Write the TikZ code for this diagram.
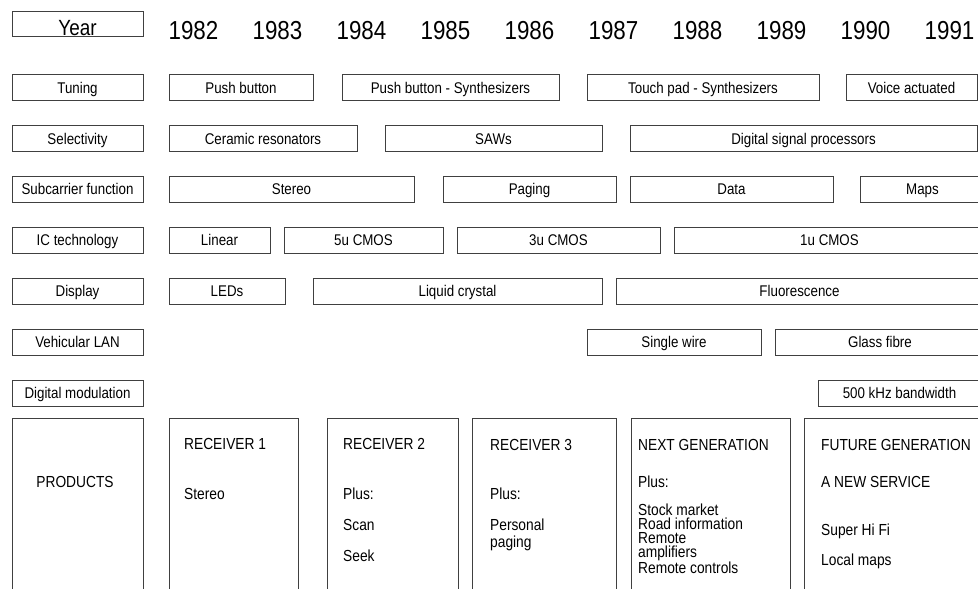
\documentclass[tikz,border=0pt]{standalone}
\usepackage{fontspec}
\setmainfont{Liberation Sans}[FakeStretch=0.86]
\usepackage{tikz}

\tikzset{
  cell/.style={draw=black!75, line width=1pt, minimum height=26pt, inner sep=0pt,
    text height=11.5pt, text depth=0pt, font=\fontsize{15.5}{17}\selectfont},
  yearlbl/.style={anchor=base, inner sep=0pt, font=\fontsize{26}{28}\selectfont},
  prodbox/.style={draw=black!75, line width=1pt, minimum height=182pt, inner sep=0pt},
  prodtxt/.style={anchor=base west, inner sep=0pt, align=left, font=\fontsize{16}{17}\selectfont},
}

\begin{document}
\begin{tikzpicture}[x=1pt, y=-1pt]
  \useasboundingbox[fill=white] (0,0) rectangle (978,589);
  \clip (0,0) rectangle (978,589);

  % header
  \node[cell, minimum width=131pt, minimum height=25pt, text height=23pt,
        font=\fontsize{22}{24}\selectfont] (year) at (77.5,23.5) {Year};
  \foreach \yr [count=\i from 0] in {1982,...,1991}
    \node[yearlbl] (y\yr) at ({193.5+84*\i},39) {\yr};

  % row labels
  \node[cell, minimum width=131pt] (tuning) at (77.5,87.5) {Tuning};
  \node[cell, minimum width=131pt] (select) at (77.5,138.5) {Selectivity};
  \node[cell, minimum width=131pt] (subcar) at (77.5,189) {Subcarrier function};
  \node[cell, minimum width=131pt] (ictech) at (77.5,240) {IC technology};
  \node[cell, minimum width=131pt] (display) at (77.5,291) {Display};
  \node[cell, minimum width=131pt] (vlan) at (77.5,342) {Vehicular LAN};
  \node[cell, minimum width=131pt] (digmod) at (77.5,393) {Digital modulation};

  % tuning
  \node[cell, minimum width=144pt] (tun1) at (241,87.5) {Push button};
  \node[cell, minimum width=217pt] (tun2) at (450.5,87.5) {Push button - Synthesizers};
  \node[cell, minimum width=232pt] (tun3) at (703,87.5) {Touch pad - Synthesizers};
  \node[cell, minimum width=131pt] (tun4) at (911.5,87.5) {Voice actuated};

  % selectivity
  \node[cell, minimum width=188pt] (sel1) at (263,138.5) {Ceramic resonators};
  \node[cell, minimum width=217pt] (sel2) at (493.5,138.5) {SAWs};
  \node[cell, minimum width=347pt] (sel3) at (803.5,138.5) {Digital signal processors};

  % subcarrier
  \node[cell, minimum width=245pt] (sub1) at (291.5,189) {Stereo};
  \node[cell, minimum width=173pt] (sub2) at (529.5,189) {Paging};
  \node[cell, minimum width=203pt] (sub3) at (731.5,189) {Data};
  \node[cell, minimum width=125pt] (sub4) at (922.5,189) {Maps};

  % IC technology
  \node[cell, minimum width=101pt] (ic1) at (219.5,240) {Linear};
  \node[cell, minimum width=159pt] (ic2) at (363.5,240) {5u CMOS};
  \node[cell, minimum width=203pt] (ic3) at (558.5,240) {3u CMOS};
  \node[cell, minimum width=311pt] (ic4) at (829.5,240) {1u CMOS};

  % display
  \node[cell, minimum width=116pt] (dis1) at (227,291) {LEDs};
  \node[cell, minimum width=289pt] (dis2) at (457.5,291) {Liquid crystal};
  \node[cell, minimum width=367pt] (dis3) at (799.5,291) {Fluorescence};

  % vehicular LAN
  \node[cell, minimum width=174pt] (lan1) at (674,342) {Single wire};
  \node[cell, minimum width=210pt] (lan2) at (880,342) {Glass fibre};

  % digital modulation
  \node[cell, minimum width=163pt] (mod1) at (899.5,393) {500 kHz bandwidth};

  % products
  \node[prodbox, minimum width=131pt] (prod) at (77.5,509) {};
  \node[prodbox, minimum width=129pt] (rx1) at (233.5,509) {};
  \node[prodbox, minimum width=131pt] (rx2) at (392.5,509) {};
  \node[prodbox, minimum width=144pt] (rx3) at (544,509) {};
  \node[prodbox, minimum width=159pt] (nextgen) at (710.5,509) {};
  \node[prodbox, minimum width=196pt] (futgen) at (902,509) {};

  \node[prodtxt, anchor=base] (prodlbl) at (75,487) {PRODUCTS};

  \node[prodtxt] (rx1a) at (184,449) {RECEIVER 1};
  \node[prodtxt] (rx1b) at (184,499) {Stereo};

  \node[prodtxt] (rx2a) at (343,449) {RECEIVER 2};
  \node[prodtxt] (rx2b) at (343,499) {Plus:};
  \node[prodtxt] (rx2c) at (343,530) {Scan};
  \node[prodtxt] (rx2d) at (343,561) {Seek};

  % multi-line texts: base is the last line
  \node[prodtxt] (rx3a) at (490,450) {RECEIVER 3};
  \node[prodtxt] (rx3b) at (490,499) {Plus:};
  \node[prodtxt] (rx3c) at (490,547) {Personal\\paging};

  \node[prodtxt] (nga) at (638,450) {NEXT GENERATION};
  \node[prodtxt] (ngb) at (638,487) {Plus:};
  \node[prodtxt, font=\fontsize{16}{14}\selectfont] (ngc) at (638,573)
    {Stock market\\Road information\\Remote\\amplifiers\\Remote controls};

  \node[prodtxt] (fga) at (821,450) {FUTURE GENERATION};
  \node[prodtxt] (fgb) at (821,487) {A NEW SERVICE};
  \node[prodtxt] (fgc) at (821,535) {Super Hi Fi};
  \node[prodtxt] (fgd) at (821,565) {Local maps};
\end{tikzpicture}
\end{document}
